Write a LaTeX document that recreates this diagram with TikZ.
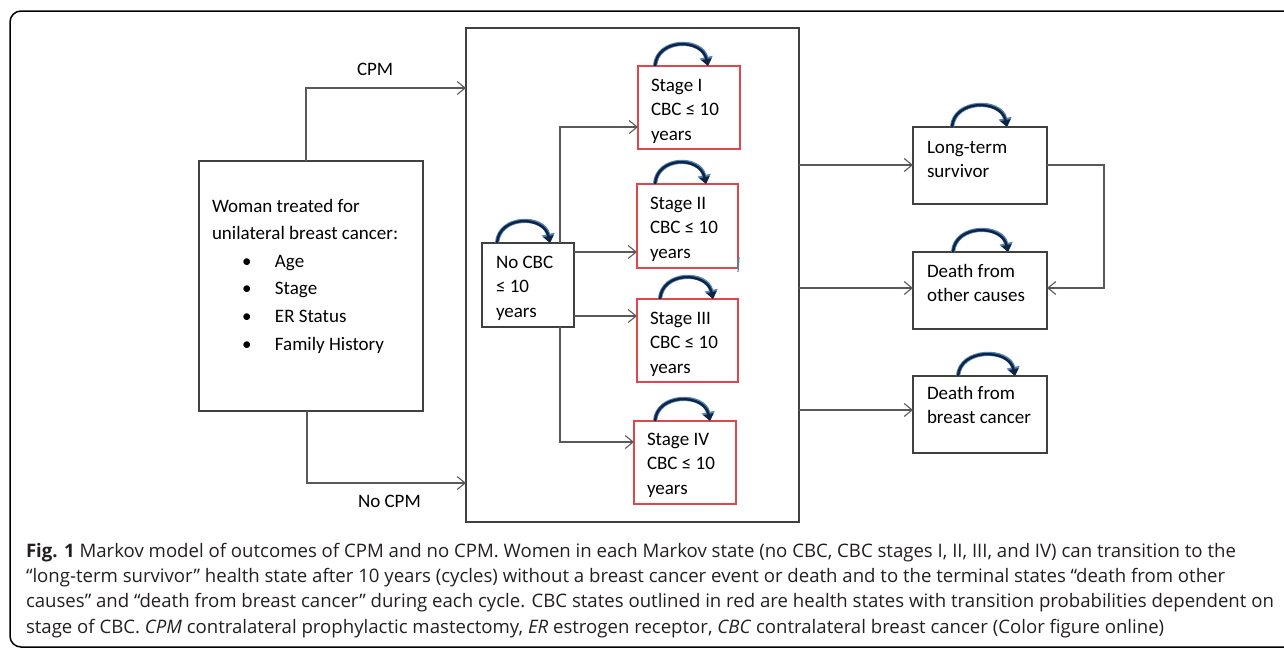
\documentclass[tikz,border=0pt]{standalone}
\usepackage{fontspec}
\setmainfont{Carlito}
\newfontfamily\capfont{Open Sans}
\usetikzlibrary{arrows.meta,calc}
\definecolor{linegray}{HTML}{595959}
\definecolor{boxgray}{HTML}{404040}
\definecolor{cbcred}{HTML}{E0474C}
\definecolor{loopdark}{HTML}{10243F}
\definecolor{loopblue}{HTML}{4F81BD}
\definecolor{captext}{HTML}{231F20}
\newcommand\selfloop[3]{%
  \draw[loopback] ($(#1.north)+(#2,0)$) .. controls +(2,-28) and +(-6,-28) .. ($(#1.north)+(#3,0)$);
  \draw[loopfront] ($(#1.north)+(#2,0)$) .. controls +(2,-28) and +(-6,-28) .. ($(#1.north)+(#3,0)$);}
\begin{document}
\begin{tikzpicture}[x=1pt,y=-1pt,
  box/.style={draw=boxgray,line width=1.2pt,inner sep=0pt,outer sep=0pt},
  redbox/.style={draw=cbcred,line width=1.2pt,inner sep=0pt,outer sep=0pt},
  txt/.style={inner sep=0pt,outer sep=0pt,align=left,text=black,font=\fontsize{19}{24.5}\selectfont},
  txtb/.style={txt,font=\fontsize{19}{24}\selectfont},
  arr/.style={draw=linegray,line width=1.1pt,-{Straight Barb[length=8pt,width=13pt,line width=1.1pt]}},
  loopback/.style={draw=loopblue,line width=4.2pt,-{Triangle[length=9pt,width=13pt]}},
  loopfront/.style={draw=loopdark,line width=2.4pt,-{Triangle[length=7pt,width=10pt]}},
  captxt/.style={inner sep=0pt,outer sep=0pt,anchor=base west,text=captext,font=\capfont\fontsize{18.6}{22}\selectfont}]
\useasboundingbox (0,0) rectangle (1284,649);
% outer frame
\draw[line width=1.5pt,rounded corners=11pt] (10,11) rectangle (1310,647);
% boxes
\node[box,minimum width=224pt,minimum height=250pt] (woman) at (311,286) {};
\node[box,minimum width=333pt,minimum height=494pt] (big) at (632.5,275) {};
\node[box,minimum width=92pt,minimum height=84pt] (nocbc) at (528,285) {};
\node[redbox,minimum width=102pt,minimum height=83pt] (st1) at (689,107.5) {};
\node[redbox,minimum width=101pt,minimum height=84pt] (st2) at (687.5,226) {};
\node[redbox,minimum width=101pt,minimum height=83pt] (st3) at (687.5,340.5) {};
\node[redbox,minimum width=102pt,minimum height=83pt] (st4) at (685,462.5) {};
\node[box,minimum width=134pt,minimum height=77pt] (long) at (980,165.5) {};
\node[box,minimum width=134pt,minimum height=77pt] (other) at (980,290.5) {};
\node[box,minimum width=134pt,minimum height=77pt] (breast) at (980,414.5) {};
% texts
\node[txt,anchor=north west,font=\fontsize{19}{27.6}\selectfont] (womantxt) at (212,192.7)
  {\strut Woman treated for\\ unilateral breast cancer:\\
   \hspace*{30pt}\makebox[33pt][l]{\textbullet}Age\\
   \hspace*{30pt}\makebox[33pt][l]{\textbullet}Stage\\
   \hspace*{30pt}\makebox[33pt][l]{\textbullet}ER Status\\
   \hspace*{30pt}\makebox[33pt][l]{\textbullet}Family History};
\node[txt,anchor=north west] (nocbctxt) at (496,250.85) {\strut No CBC\\ ≤ 10\\ years};
\node[txt,anchor=north west] (st1txt) at (651,73.85) {\strut Stage I\\ CBC ≤ 10\\ years};
\node[txt,anchor=north west] (st2txt) at (650,191.85) {\strut Stage II\\ CBC ≤ 10\\ years};
\node[txt,anchor=north west] (st3txt) at (650,306.85) {\strut Stage III\\ CBC ≤ 10\\ years};
\node[txt,anchor=north west] (st4txt) at (647,427.85) {\strut Stage IV\\ CBC ≤ 10\\ years};
\node[txtb,anchor=north west] (longtxt) at (927,136.2) {\strut Long-term\\ survivor};
\node[txtb,anchor=north west] (othertxt) at (927,260.2) {\strut Death from\\ other causes};
\node[txtb,anchor=north west] (breasttxt) at (927,382.2) {\strut Death from\\ breast cancer};
\node[txt,anchor=base west] (cpmlab) at (357,75) {CPM};
\node[txt,anchor=base west] (nocpmlab) at (358,507) {No CPM};
% connector turning points
\coordinate (cpmturn) at (306,88);
\coordinate (nocpmturn) at (307,483);
\coordinate (t1) at (560,127);
\coordinate (t2) at (577,252);
\coordinate (t3) at (577,316);
\coordinate (t4) at (560,442);
\coordinate (r1) at (799,165);
\coordinate (r2) at (799,288);
\coordinate (r3) at (799,410);
\coordinate (lr1) at (1104,165);
\coordinate (lr2) at (1104,288);
% connectors
\draw[arr] (woman.north -| cpmturn) -- (cpmturn) -- (cpmturn -| big.west);
\draw[arr] (woman.south -| nocpmturn) -- (nocpmturn) -- (nocpmturn -| big.west);
\draw[arr] (nocbc.north -| t1) -- (t1) -- (t1 -| st1.west);
\draw[arr] (nocbc.east |- t2) -- (t2 -| st2.west);
\draw[arr] (nocbc.east |- t3) -- (t3 -| st3.west);
\draw[arr] (nocbc.south -| t4) -- (t4) -- (t4 -| st4.west);
\draw[arr] (big.east |- r1) -- (r1 -| long.west);
\draw[arr] (big.east |- r2) -- (r2 -| other.west);
\draw[arr] (big.east |- r3) -- (r3 -| breast.west);
\draw[arr] (long.east |- lr1) -- (lr1) -- (lr2) -- (lr2 -| other.east);
% self loops
\selfloop{st1}{-34}{19}
\selfloop{st2}{-32.5}{18.5}
\selfloop{st3}{-27.5}{25.5}
\selfloop{st4}{-30}{25}
\selfloop{nocbc}{-31}{22}
\selfloop{long}{-28}{27}
\selfloop{other}{-27}{28}
\selfloop{breast}{-22}{35}
% small stray mark
\draw[line width=1.2pt,cyan!70!black] (739,257) -- (738,272);
% caption
\node[captxt] (cap1) at (26,557) {\textbf{Fig. 1} Markov model of outcomes of CPM and no CPM. Women in each Markov state (no CBC, CBC stages I, II, III, and IV) can transition to the};
\node[captxt] (cap2) at (26,582.3) {“long-term survivor” health state after 10 years (cycles) without a breast cancer event or death and to the terminal states “death from other};
\node[captxt] (cap3) at (26,607.6) {causes” and “death from breast cancer” during each cycle. CBC states outlined in red are health states with transition probabilities dependent on};
\node[captxt] (cap4) at (26,633) {stage of CBC. \textit{CPM} contralateral prophylactic mastectomy, \textit{ER} estrogen receptor, \textit{CBC} contralateral breast cancer (Color figure online)};
\end{tikzpicture}
\end{document}
